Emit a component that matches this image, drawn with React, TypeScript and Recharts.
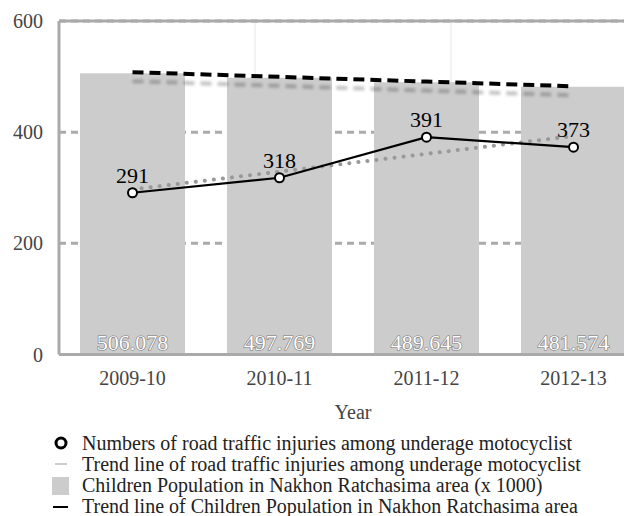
import { Bar, CartesianGrid, ComposedChart, LabelList, Line, ReferenceLine, XAxis, YAxis } from "recharts";

const FONT = '"Liberation Serif", "Times New Roman", Times, serif';

// values
const years = ["2009-10", "2010-11", "2011-12", "2012-13"];
const population = [506.078, 497.769, 489.645, 481.574];
const injuries = [291, 318, 391, 373];
const injuryTrend = [297, 329, 361, 393];
const populationTrend = [508, 499.5, 491, 482.5];
const yTicks = [0, 200, 400, 600];
// band borders (between the categories) for the thin dotted verticals
const bandBorders = [1, 2, 3];

const legendItems = [
  { kind: "circle", label: "Numbers of road traffic injuries among underage motocyclist" },
  { kind: "thin", label: "Trend line of road traffic injuries among underage motocyclist" },
  { kind: "square", label: "Children Population in Nakhon Ratchasima area (x 1000)" },
  { kind: "line", label: "Trend line of Children Population in Nakhon Ratchasima area" },
];

function LegendMarker({ kind }: { kind: string }) {
  return (
    <svg width={22} height={20}>
      {kind === "circle" && <circle cx={11} cy={10} r={5} fill="#fff" stroke="#000" strokeWidth={3} />}
      {kind === "thin" && <line x1={5} x2={17} y1={10} y2={10} stroke="#999" strokeWidth={1} />}
      {kind === "square" && <rect x={2} y={1} width={17} height={18} fill="#ccc" />}
      {kind === "line" && <line x1={3} x2={18} y1={10} y2={10} stroke="#000" strokeWidth={2} />}
    </svg>
  );
}

export default function App() {
  const data = years.map((year, i) => ({
    year,
    population: population[i],
    injuries: injuries[i],
    injuryTrend: injuryTrend[i],
    populationTrend: populationTrend[i],
  }));

  return (
    <div style={{ width: 624, height: 508, overflow: "hidden", position: "relative", fontFamily: FONT }}>
      <ComposedChart width={639} height={425} data={data} margin={{ top: 13, right: 0, bottom: 0, left: 0 }} barSize={105}>
        <defs>
          <filter id="dashShadow" filterUnits="userSpaceOnUse" x={0} y={0} width={700} height={425}>
            <feOffset in="SourceAlpha" dx={0} dy={9} result="off" />
            <feGaussianBlur in="off" stdDeviation={1.6} result="blur" />
            <feComponentTransfer in="blur" result="soft">
              <feFuncA type="linear" slope={0.24} />
            </feComponentTransfer>
            <feMerge>
              <feMergeNode in="soft" />
              <feMergeNode in="SourceGraphic" />
            </feMerge>
          </filter>
        </defs>
        <CartesianGrid vertical={false} stroke="#aaa" strokeWidth={3} strokeDasharray="7 5" />
        <XAxis
          dataKey="year"
          tickLine={false}
          axisLine={{ stroke: "#aaa", strokeWidth: 3 }}
          tickMargin={10}
          height={78.5}
          tick={{ fill: "#444", fontSize: 20, fontFamily: FONT }}
          label={{ value: "Year", position: "insideBottom", offset: 14.5, fill: "#444", fontSize: 20, fontFamily: FONT }}
        />
        <XAxis xAxisId="grid" type="number" domain={[0, 4]} allowDataOverflow hide />
        <YAxis
          domain={[0, 600]}
          ticks={yTicks}
          width={51}
          tickLine={false}
          axisLine={{ stroke: "#aaa", strokeWidth: 3 }}
          tickMargin={10}
          tick={{ fill: "#444", fontSize: 20, fontFamily: FONT }}
        />
        {bandBorders.map((b) => (
          <ReferenceLine key={b} x={b} xAxisId="grid" stroke="#ccc" strokeWidth={1} strokeDasharray="1 1" />
        ))}
        <ReferenceLine y={600} stroke="#aaa" strokeWidth={3} />
        <Bar dataKey="population" fill="#ccc" isAnimationActive={false}>
          <LabelList
            dataKey="population"
            position="insideBottom"
            offset={4.5}
            formatter={(v: any) => Number(v).toFixed(3)}
            style={{ fill: "#fff", stroke: "#777", strokeWidth: 1.2, paintOrder: "stroke", fontSize: 22, fontFamily: FONT }}
          />
        </Bar>
        <Line
          dataKey="populationTrend"
          stroke="#000"
          strokeWidth={4}
          strokeDasharray="11 6"
          dot={false}
          filter="url(#dashShadow)"
          isAnimationActive={false}
        />
        <Line
          dataKey="injuryTrend"
          stroke="#999"
          strokeWidth={4}
          strokeDasharray="0.1 9"
          strokeLinecap="round"
          dot={false}
          isAnimationActive={false}
        />
        <Line
          dataKey="injuries"
          stroke="#000"
          strokeWidth={2.2}
          dot={{ r: 4.5, fill: "#fff", stroke: "#000", strokeWidth: 2 }}
          isAnimationActive={false}
        >
          <LabelList dataKey="injuries" position="top" offset={10} style={{ fill: "#000", fontSize: 22, fontFamily: FONT }} />
        </Line>
      </ComposedChart>
      <div style={{ position: "absolute", top: 424.4, left: 42 }}>
        {legendItems.map((item) => (
          <div key={item.label} style={{ display: "flex", alignItems: "center", height: 21.3, fontSize: 20, color: "#222" }}>
            <LegendMarker kind={item.kind} />
            <span style={{ marginLeft: 10, whiteSpace: "nowrap" }}>{item.label}</span>
          </div>
        ))}
      </div>
    </div>
  );
}
